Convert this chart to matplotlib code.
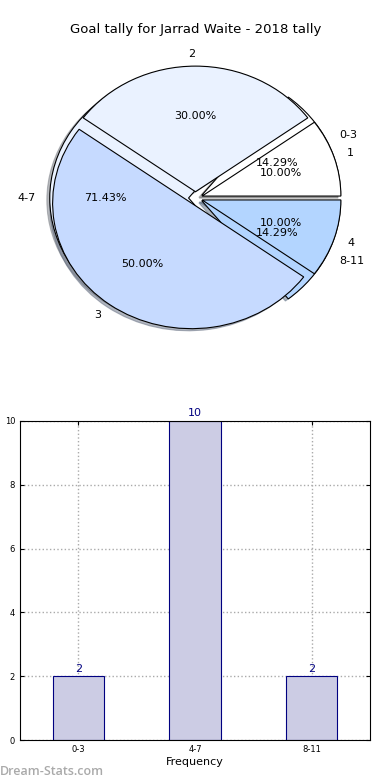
import matplotlib
matplotlib.use("Agg")
import matplotlib.pyplot as plt

# Data
groups = ["0-3", "4-7", "8-11"]
group_counts = [2, 10, 2]
tally_labels = ["1", "2", "3", "4"]
tally_counts = [1, 3, 5, 1]
bar_values = [2, 10, 2]

title = "Goal tally for Jarrad Waite - 2018 tally"

fig = plt.figure(figsize=(3.9, 7.8), dpi=100)

# Pie chart
pw, ph = 347, 314
axp = fig.add_axes([(195.5 - pw / 2) / 390, 1 - (198 + ph / 2) / 780, pw / 390, ph / 780])
pie_colors1 = ["#ffffff", "#eaf2ff", "#b3d5ff"]
pie_colors2 = ["#ffffff", "#eaf2ff", "#c6daff", "#b3d5ff"]
wp = dict(edgecolor="black", linewidth=0.8)
shadow = dict(ox=-0.015, oy=-0.012, shade=0.5)
axp.pie(group_counts, labels=groups, autopct="%.2f%%", explode=[0.05, 0.05, 0.05],
        shadow=shadow, colors=pie_colors1, wedgeprops=wp,
        labeldistance=1.1, pctdistance=0.6, textprops=dict(fontsize=8))
axp.pie(tally_counts, labels=tally_labels, autopct="%.2f%%", explode=[0.05, 0.05, 0.05, 0.05],
        shadow=shadow, colors=pie_colors2, wedgeprops=wp, labeldistance=1.1,
        pctdistance=0.6, textprops=dict(fontsize=8))
axp.set_aspect("auto")
axp.set_xlim(-1.25, 1.25)
axp.set_ylim(-1.25, 1.25)
axp.set_title(title, fontsize=9.5, pad=6)

# Bar chart
axb = fig.add_axes([20/390, 1 - 740/780, 350/390, 319/780])
x = list(range(len(groups)))
axb.bar(x, bar_values, width=0.44, color="#ccccE4", edgecolor="#000080", linewidth=0.8, zorder=2)
for xi, v in zip(x, bar_values):
    axb.text(xi, v + 0.08, str(v), ha="center", va="bottom", color="#000080", fontsize=8)
axb.set_xlim(-0.5, 2.5)
axb.set_ylim(0, 10)
axb.set_xticks(x)
axb.set_xticklabels(groups)
axb.set_yticks([0, 2, 4, 6, 8, 10])
axb.tick_params(labelsize=6, length=3, direction="in", top=True, right=True)
axb.grid(True, linestyle=":", color="#aaaaaa", linewidth=1)
axb.set_axisbelow(True)
axb.set_xlabel("Frequency", fontsize=8, labelpad=2)
axb.set_ylabel("Goal Tally", fontsize=8, labelpad=6)

fig.text(0.0, 0.0 + 2/780, "Dream-Stats.com", color="#aaaaaa", fontsize=9,
         family="Open Sans", fontweight="semibold", ha="left", va="bottom")

fig.savefig("out.png", dpi=100)
